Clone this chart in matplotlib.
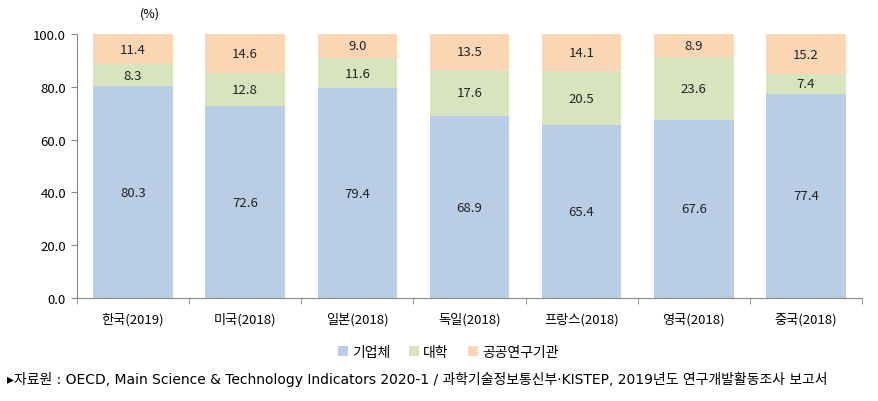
import matplotlib.pyplot as plt
import numpy as np

plt.rcParams['font.family'] = ['Noto Sans CJK KR', 'DejaVu Sans']

countries = ['한국(2019)', '미국(2018)', '일본(2018)', '독일(2018)', '프랑스(2018)', '영국(2018)', '중국(2018)']
business = [80.3, 72.6, 79.4, 68.9, 65.4, 67.6, 77.4]
university = [8.3, 12.8, 11.6, 17.6, 20.5, 23.6, 7.4]
public = [11.4, 14.6, 9.0, 13.5, 14.1, 8.9, 15.2]
series_names = ['기업체', '대학', '공공연구기관']
colors = ['#B9CDE5', '#D7E4BD', '#FCD5B5']

fig = plt.figure(figsize=(8.79, 4.02), dpi=100)
ax = fig.add_axes([0.0876, 0.256, 0.893, 0.657])

x = np.arange(len(countries))
width = 0.71
bottom = np.zeros(len(countries))
for vals, name, col in zip([business, university, public], series_names, colors):
    vals = np.array(vals)
    ax.bar(x, vals, width, bottom=bottom, color=col, label=name, zorder=2)
    for xi, b, v in zip(x, bottom, vals):
        ax.text(xi, b + v / 2, f'{v:.1f}', ha='center', va='center', fontsize=9.5, color='#222222')
    bottom = bottom + vals

ax.set_xlim(-0.5, len(countries) - 0.5)
ax.set_ylim(0, 100)
ax.set_yticks(np.arange(0, 101, 20))
ax.set_yticklabels([f'{v:.1f}' for v in np.arange(0, 101, 20)], fontsize=9.5)
ax.set_xticks(x)
ax.set_xticklabels(countries, fontsize=9.5)
ax.tick_params(axis='x', length=0, pad=10)
ax.tick_params(axis='y', length=4, color='#888888', pad=4)
ax.set_xticks(np.arange(-0.5, len(countries), 1), minor=True)
ax.tick_params(axis='x', which='minor', length=4, color='#888888')

for s in ['top', 'right']:
    ax.spines[s].set_visible(False)
for s in ['left', 'bottom']:
    ax.spines[s].set_color('#888888')
    ax.spines[s].set_linewidth(0.8)

fig.text(0.171, 0.965, '(%)', fontsize=9, ha='center', va='center')

leg = fig.legend(loc='center', bbox_to_anchor=(0.51, 0.122), ncol=3, frameon=False,
                 fontsize=10, handlelength=0.7, handleheight=0.7, handletextpad=0.3,
                 columnspacing=1.4)

fig.text(0.008, 0.055, '▸자료원 : OECD, Main Science & Technology Indicators 2020-1 / 과학기술정보통신부·KISTEP, 2019년도 연구개발활동조사 보고서',
         fontsize=10, ha='left', va='center', family=['DejaVu Sans', 'Noto Sans CJK KR'])

fig.savefig('out.png', dpi=100)
